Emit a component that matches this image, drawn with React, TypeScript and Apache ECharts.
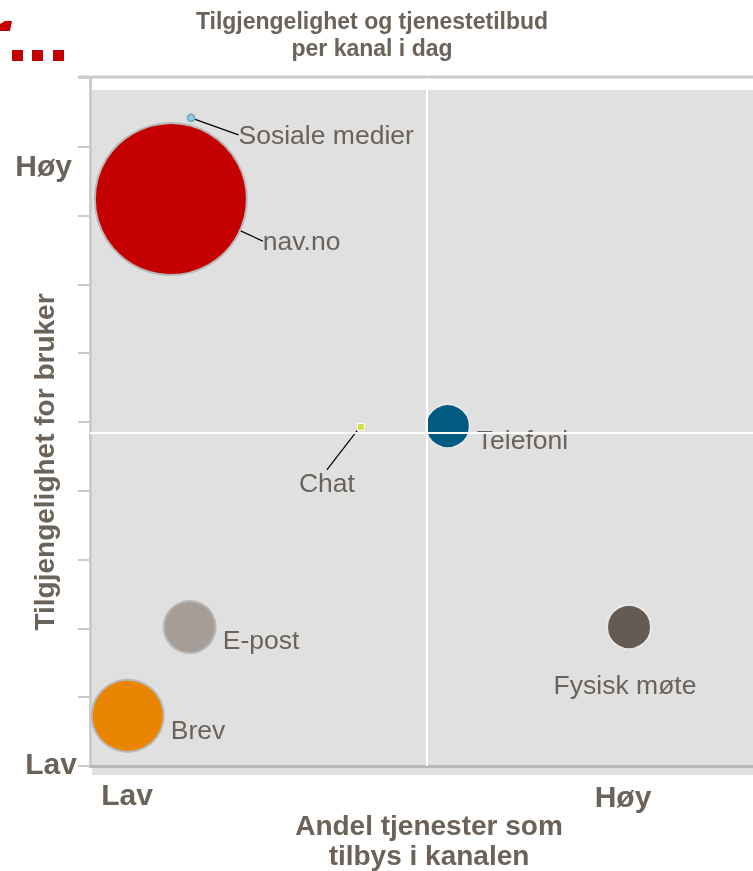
import React, { useEffect, useRef } from 'react';
import * as echarts from 'echarts';

// Channels and their position in the matrix
const CHANNELS = ['Sosiale medier', 'nav.no', 'Chat', 'Telefoni', 'E-post', 'Fysisk møte', 'Brev'];
// Andel tjenester som tilbys i kanalen (0 = Lav, 10 = Høy)
const SERVICE_SHARE = [1.5, 1.2, 4.02, 5.31, 1.48, 8.0, 0.56];
// Tilgjengelighet for bruker (0 = Lav, 10 = Høy)
const AVAILABILITY = [9.42, 8.24, 4.93, 4.94, 2.02, 2.02, 0.73];
// Relative bubble size (volume)
const VOLUME = [7, 152, 7, 44, 52, 44, 72];

const Y_TICK_LABELS = ['Lav', 'Høy'];
const X_TICK_LABELS = ['Lav', 'Høy'];

const COLORS = ['#8fd3ee', '#c40000', '#d4e04a', '#005a82', '#a59e98', '#665b53', '#ea8500'];
const BORDERS = ['#7fa8bb', '#b8b8b8', '#ffffff', '#e8e8e8', '#b8b8b8', '#e8e8e8', '#b8b8b8'];
const SYMBOLS = ['circle', 'circle', 'rect', 'circle', 'circle', 'circle', 'circle'];
const LABEL_POS = ['right', 'right', 'bottom', 'right', 'right', 'bottom', 'right'];
const LABEL_SHIFT: [number, number][] = [[38, 17], [10, 42], [-34, 34], [1, 14], [1, 13], [-4, 16], [1, 14]];
const LEADER = [true, true, true, false, false, false, false];

export default function App() {
  const ref = useRef<HTMLDivElement>(null);
  useEffect(() => {
    const chart = echarts.init(ref.current!, null, { renderer: 'svg' });
    const font = "'Liberation Sans', Arial, sans-serif";
    const txt = '#6b625a';
    const data = CHANNELS.map((name, i) => ({
      name,
      value: [SERVICE_SHARE[i], AVAILABILITY[i], VOLUME[i]],
      symbol: SYMBOLS[i],
      itemStyle: { color: COLORS[i], borderColor: BORDERS[i], borderWidth: i === 2 ? 1 : 2, opacity: 1 },
      label: { position: LABEL_POS[i] },
      labelLine: { show: LEADER[i] },
    }));
    chart.setOption({
      animation: false,
      grid: { left: 90, top: 78, right: 0, bottom: 105 },
      xAxis: {
        type: 'value', min: 0, max: 9.84,
        axisLine: { show: true, onZero: false, lineStyle: { color: '#b8b8b8', width: 3 } },
        axisTick: { show: false }, axisLabel: { show: false }, splitLine: { show: false },
      },
      yAxis: {
        type: 'value', min: 0, max: 10, interval: 1,
        axisLine: { show: true, onZero: false, lineStyle: { color: '#cccccc', width: 3 } },
        axisTick: { show: true, length: 12, lineStyle: { color: '#cccccc', width: 2 } },
        axisLabel: { show: false }, splitLine: { show: false },
      },
      graphic: [
        { type: 'rect', z: -10, silent: true, shape: { x: 92, y: 90, width: 661, height: 685 }, style: { fill: '#e0e0e0' } },
        { type: 'line', z: -5, silent: true, shape: { x1: 78, y1: 77, x2: 753, y2: 77 }, style: { stroke: '#cccccc', lineWidth: 3 } },
        // logo fragment
        { type: 'polygon', shape: { points: [[0, 24], [5, 21], [12, 21], [10, 31], [0, 31]] }, style: { fill: '#c30000' } },
        { type: 'rect', shape: { x: 12, y: 50, width: 11, height: 11 }, style: { fill: '#c30000' } },
        { type: 'rect', shape: { x: 32, y: 50, width: 11, height: 11 }, style: { fill: '#c30000' } },
        { type: 'rect', shape: { x: 53, y: 50, width: 11, height: 11 }, style: { fill: '#c30000' } },
        {
          type: 'text', x: 372, y: 7,
          style: { text: 'Tilgjengelighet og tjenestetilbud\nper kanal i dag', fill: txt, font: `bold 23px ${font}`, textAlign: 'center', textVerticalAlign: 'top', lineHeight: 27 },
        },
        {
          type: 'text', x: 44, y: 462, rotation: Math.PI / 2,
          style: { text: 'Tilgjengelighet for bruker', fill: txt, font: `bold 28px ${font}`, textAlign: 'center', textVerticalAlign: 'middle' },
        },
        {
          type: 'text', x: 429, y: 810,
          style: { text: 'Andel tjenester som\ntilbys i kanalen', fill: txt, font: `bold 28px ${font}`, textAlign: 'center', textVerticalAlign: 'top', lineHeight: 30 },
        },
        { type: 'text', x: 72, y: 165, style: { text: Y_TICK_LABELS[1], fill: txt, font: `bold 30px ${font}`, textAlign: 'right', textVerticalAlign: 'middle' } },
        { type: 'text', x: 77, y: 763, style: { text: Y_TICK_LABELS[0], fill: txt, font: `bold 30px ${font}`, textAlign: 'right', textVerticalAlign: 'middle' } },
        { type: 'text', x: 127, y: 794, style: { text: X_TICK_LABELS[0], fill: txt, font: `bold 30px ${font}`, textAlign: 'center', textVerticalAlign: 'middle' } },
        { type: 'text', x: 623, y: 796, style: { text: X_TICK_LABELS[1], fill: txt, font: `bold 30px ${font}`, textAlign: 'center', textVerticalAlign: 'middle' } },
      ],
      series: [
        {
          type: 'scatter',
          data,
          symbolSize: (v: number[]) => v[2],
          label: {
            show: true, formatter: '{b}', color: txt, fontFamily: font, fontSize: 26.5, distance: 5,
          },
          labelLine: { show: false, lineStyle: { color: '#000000', width: 1.2 } },
          labelLayout: (p: any) => ({ dx: LABEL_SHIFT[p.dataIndex][0], dy: LABEL_SHIFT[p.dataIndex][1] }),
          markLine: {
            silent: true, symbol: 'none', label: { show: false },
            lineStyle: { color: '#ffffff', width: 2, type: 'solid' },
            data: [{ xAxis: 5 }, { yAxis: 4.85 }],
          },
        },
      ],
    });
    return () => chart.dispose();
  }, []);
  return <div ref={ref} style={{ position: 'fixed', left: 0, top: 0, width: 753, height: 871 }} />;
}
